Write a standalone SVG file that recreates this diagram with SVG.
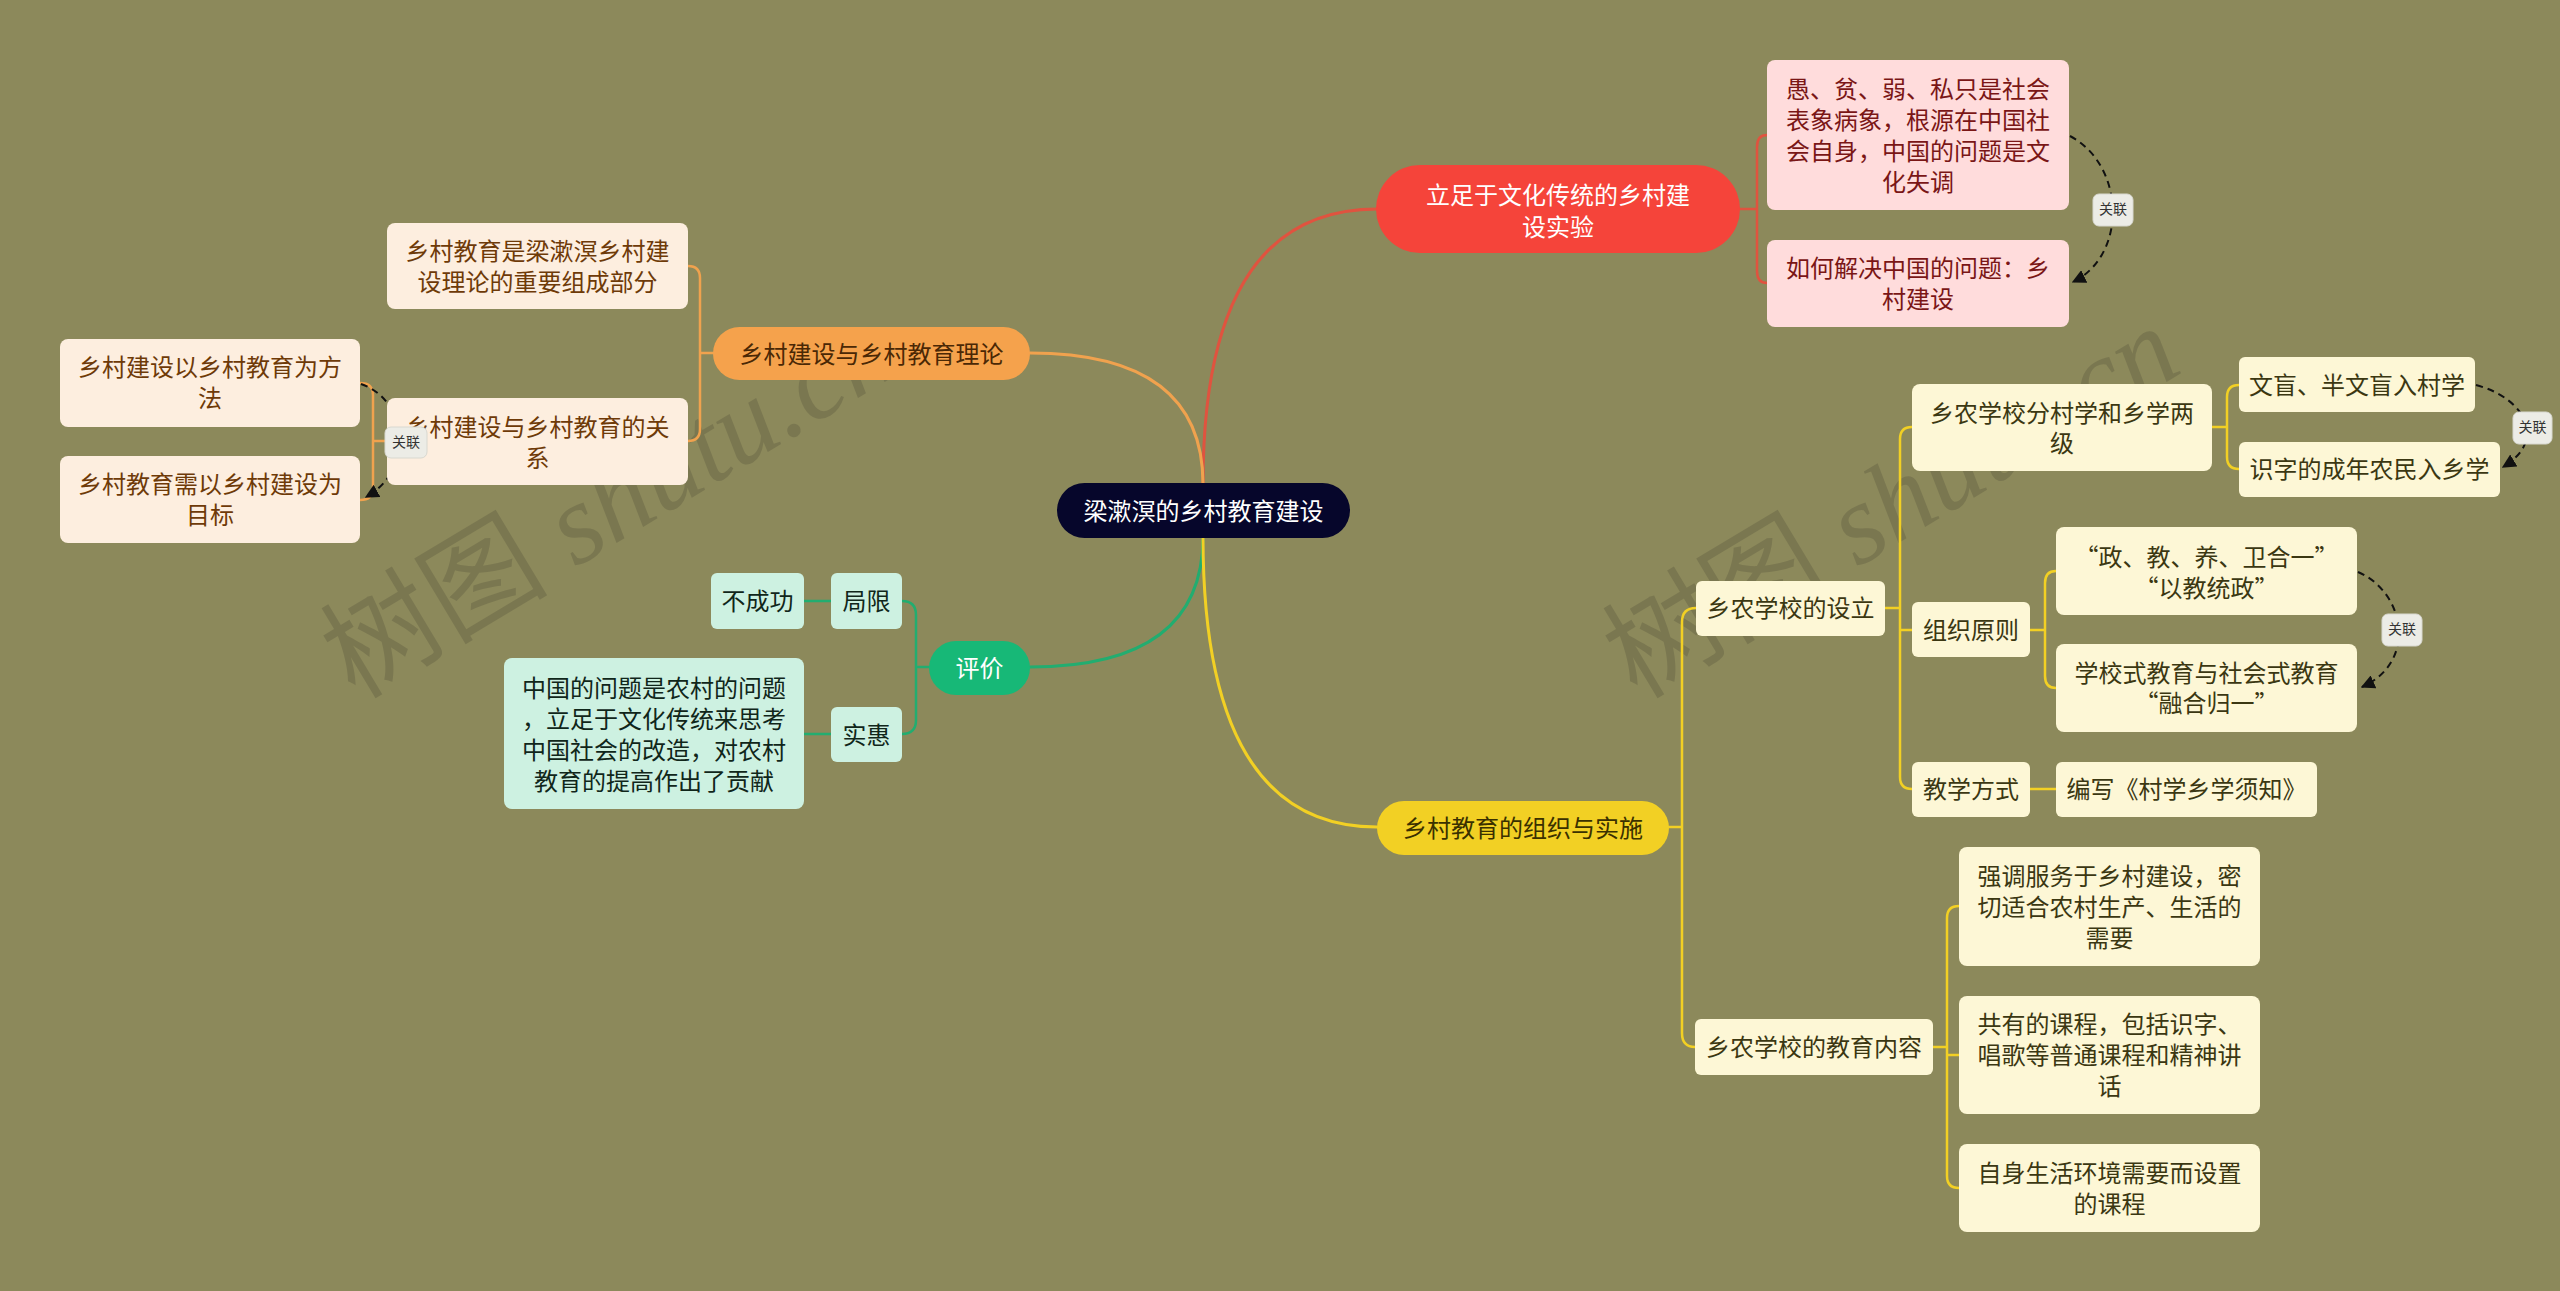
<svg xmlns="http://www.w3.org/2000/svg" width="2560" height="1291" viewBox="0 0 2560 1291">
<defs>
<style>
text{font-family:"Noto Sans CJK SC","Noto Sans",sans-serif;font-size:24px;text-anchor:middle;dominant-baseline:central}
g[id^="n-"] text,.lbl text{transform:translateY(-2px)}
.c{fill:none;stroke-width:3;stroke-linecap:round}
.b{fill:none;stroke-width:2.5;stroke-linecap:round;stroke-linejoin:round}
.rel{fill:none;stroke:#111;stroke-width:2;stroke-dasharray:7 5;marker-end:url(#arr)}
.lbl rect{fill:#ecece6;stroke:#d8d8d0;stroke-width:1}
.lbl text{font-size:14px;fill:#333}
.pink rect{fill:#ffdcdc}
.pink text{fill:#7a1616}
.peach rect{fill:#fdeedf}
.peach text{fill:#6e3a08}
.mint rect{fill:#cdf1e1}
.mint text{fill:#10261a}
.cream rect{fill:#fdf7d6}
.cream text{fill:#3b3712}
.wm{font-size:114px;fill:#5e5b40;opacity:0.38;text-anchor:start;dominant-baseline:alphabetic}
</style>
<marker id="arr" viewBox="0 0 10 10" refX="9" refY="5" markerWidth="7" markerHeight="7" orient="auto">
<path d="M0,0 L10,5 L0,10 z" fill="#111"/>
</marker>
</defs>
<rect x="0" y="0" width="2560" height="1291" fill="#8c895b"/>

<g id="watermarks">
<text class="wm" transform="translate(355,700) rotate(-31)"><tspan font-family="Noto Sans CJK SC">树图</tspan><tspan font-family="Liberation Serif" font-style="italic"> shutu.cn</tspan></text>
<text class="wm" transform="translate(1637,700) rotate(-31)"><tspan font-family="Noto Sans CJK SC">树图</tspan><tspan font-family="Liberation Serif" font-style="italic"> shutu.cn</tspan></text>
</g>

<g id="connectors">
<path class="c" stroke="#e0533f" d="M1203,484 Q1203,209 1377,209"/>
<path class="c" stroke="#f0a24e" d="M1203,484 Q1203,353 1030,353"/>
<path class="c" stroke="#22ad70" d="M1203,537 Q1203,667 1030,667"/>
<path class="c" stroke="#f2d024" d="M1203,537 Q1203,827 1377,827"/>
<path class="b" stroke="#e0533f" d="M1740,209 H1757 M1767,135 Q1757,135 1757,147 V271 Q1757,283 1767,283"/>
<path class="b" stroke="#f0a24e" d="M713,353 H700 M688,266 Q700,266 700,278 V429 Q700,441 688,441"/>
<path class="b" stroke="#f0a24e" d="M387,441 H373 M360,383 Q373,383 373,395 V488 Q373,500 360,500"/>
<path class="b" stroke="#22ad70" d="M929,667 H916 M902,601 Q916,601 916,615 V720 Q916,734 902,734 M831,601 H804 M831,734 H804"/>
<path class="b" stroke="#f2d024" d="M1669,827 H1682 M1696,608 Q1682,608 1682,622 V1033 Q1682,1047 1695,1047"/>
<path class="b" stroke="#f2d024" d="M1885,608 H1900 M1912,427 Q1900,427 1900,439 V777 Q1900,789 1912,789 M1900,630 H1912"/>
<path class="b" stroke="#f2d024" d="M2212,427 H2227 M2239,385 Q2227,385 2227,397 V457 Q2227,469 2239,469"/>
<path class="b" stroke="#f2d024" d="M2030,630 H2045 M2056,571 Q2045,571 2045,583 V676 Q2045,688 2056,688"/>
<path class="b" stroke="#f2d024" d="M2030,789 H2056"/>
<path class="b" stroke="#f2d024" d="M1933,1047 H1947 M1959,906 Q1947,906 1947,918 V1176 Q1947,1188 1959,1188 M1947,1055 H1959"/>
<path class="rel" d="M2070,136 C2125,165 2128,255 2073,282"/>
<path class="rel" d="M361,384 C408,400 415,470 366,497"/>
<path class="rel" d="M2476,385 C2525,398 2548,440 2503,467"/>
<path class="rel" d="M2358,572 C2405,592 2418,662 2362,687"/>
</g>

<g id="n-root"><rect x="1057" y="483" width="293" height="55" rx="27.5" fill="#06062b"/><text x="1203.5" y="511" fill="#fff">梁漱溟的乡村教育建设</text></g>

<g id="n-red"><rect x="1376" y="165" width="364" height="88" rx="44" fill="#f5443a"/><text x="1558" y="195" fill="#fff">立足于文化传统的乡村建</text><text x="1558" y="227" fill="#fff">设实验</text></g>
<g id="n-red-1" class="pink"><rect x="1767" y="60" width="302" height="150" rx="8"/><text x="1918" y="89">愚、贫、弱、私只是社会</text><text x="1918" y="120">表象病象，根源在中国社</text><text x="1918" y="151">会自身，中国的问题是文</text><text x="1918" y="182">化失调</text></g>
<g id="n-red-2" class="pink"><rect x="1767" y="240" width="302" height="87" rx="8"/><text x="1918" y="268">如何解决中国的问题：乡</text><text x="1918" y="299">村建设</text></g>

<g id="n-orange"><rect x="713" y="327" width="317" height="53" rx="26.5" fill="#f5a24c"/><text x="871.5" y="354" fill="#4a2805">乡村建设与乡村教育理论</text></g>
<g id="n-or-1" class="peach"><rect x="387" y="223" width="301" height="86" rx="8"/><text x="537.5" y="251">乡村教育是梁漱溟乡村建</text><text x="537.5" y="282">设理论的重要组成部分</text></g>
<g id="n-or-2" class="peach"><rect x="387" y="398" width="301" height="87" rx="8"/><text x="537.5" y="427">乡村建设与乡村教育的关</text><text x="537.5" y="458">系</text></g>
<g id="n-or-2a" class="peach"><rect x="60" y="339" width="300" height="88" rx="8"/><text x="210" y="367">乡村建设以乡村教育为方</text><text x="210" y="398">法</text></g>
<g id="n-or-2b" class="peach"><rect x="60" y="456" width="300" height="87" rx="8"/><text x="210" y="484">乡村教育需以乡村建设为</text><text x="210" y="515">目标</text></g>

<g id="n-green"><rect x="929" y="641" width="101" height="54" rx="27" fill="#17b877"/><text x="979.5" y="668" fill="#fff">评价</text></g>
<g id="n-gr-1" class="mint"><rect x="831" y="573" width="71" height="56" rx="6"/><text x="866.5" y="601">局限</text></g>
<g id="n-gr-1a" class="mint"><rect x="711" y="573" width="93" height="56" rx="6"/><text x="757.5" y="601">不成功</text></g>
<g id="n-gr-2" class="mint"><rect x="831" y="707" width="71" height="55" rx="6"/><text x="866.5" y="735">实惠</text></g>
<g id="n-gr-2a" class="mint"><rect x="504" y="658" width="300" height="151" rx="8"/><text x="654" y="688">中国的问题是农村的问题</text><text x="654" y="719">，立足于文化传统来思考</text><text x="654" y="750">中国社会的改造，对农村</text><text x="654" y="781">教育的提高作出了贡献</text></g>

<g id="n-yellow"><rect x="1377" y="801" width="292" height="54" rx="27" fill="#f2d024"/><text x="1523" y="828" fill="#3a3000">乡村教育的组织与实施</text></g>
<g id="n-ye-1" class="cream"><rect x="1696" y="581" width="189" height="55" rx="6"/><text x="1790.5" y="608">乡农学校的设立</text></g>
<g id="n-ye-1a" class="cream"><rect x="1912" y="384" width="300" height="87" rx="8"/><text x="2062" y="413">乡农学校分村学和乡学两</text><text x="2062" y="443">级</text></g>
<g id="n-ye-1a1" class="cream"><rect x="2239" y="357" width="236" height="55" rx="6"/><text x="2357" y="385">文盲、半文盲入村学</text></g>
<g id="n-ye-1a2" class="cream"><rect x="2239" y="442" width="261" height="55" rx="6"/><text x="2369.5" y="469">识字的成年农民入乡学</text></g>
<g id="n-ye-1b" class="cream"><rect x="1912" y="602" width="118" height="55" rx="6"/><text x="1971" y="630">组织原则</text></g>
<g id="n-ye-1b1" class="cream"><rect x="2056" y="527" width="301" height="88" rx="8"/><text x="2206.5" y="557">“政、教、养、卫合一”</text><text x="2206.5" y="588">“以教统政”</text></g>
<g id="n-ye-1b2" class="cream"><rect x="2056" y="644" width="301" height="88" rx="8"/><text x="2206.5" y="673">学校式教育与社会式教育</text><text x="2206.5" y="703">“融合归一”</text></g>
<g id="n-ye-1c" class="cream"><rect x="1912" y="762" width="118" height="55" rx="6"/><text x="1971" y="789">教学方式</text></g>
<g id="n-ye-1c1" class="cream"><rect x="2056" y="762" width="261" height="55" rx="6"/><text x="2186.5" y="789">编写《村学乡学须知》</text></g>
<g id="n-ye-2" class="cream"><rect x="1695" y="1019" width="238" height="56" rx="6"/><text x="1814" y="1047">乡农学校的教育内容</text></g>
<g id="n-ye-2a" class="cream"><rect x="1959" y="847" width="301" height="119" rx="8"/><text x="2109.5" y="876">强调服务于乡村建设，密</text><text x="2109.5" y="907">切适合农村生产、生活的</text><text x="2109.5" y="938">需要</text></g>
<g id="n-ye-2b" class="cream"><rect x="1959" y="996" width="301" height="118" rx="8"/><text x="2109.5" y="1024">共有的课程，包括识字、</text><text x="2109.5" y="1055">唱歌等普通课程和精神讲</text><text x="2109.5" y="1086">话</text></g>
<g id="n-ye-2c" class="cream"><rect x="1959" y="1144" width="301" height="88" rx="8"/><text x="2109.5" y="1173">自身生活环境需要而设置</text><text x="2109.5" y="1204">的课程</text></g>

<g id="rel-labels">
<g class="lbl"><rect x="2093" y="194" width="40" height="32" rx="6"/><text x="2113" y="210">关联</text></g>
<g class="lbl"><rect x="385" y="427" width="42" height="31" rx="6"/><text x="406" y="443">关联</text></g>
<g class="lbl"><rect x="2513" y="412" width="39" height="32" rx="6"/><text x="2532.5" y="428">关联</text></g>
<g class="lbl"><rect x="2382" y="614" width="40" height="32" rx="6"/><text x="2402" y="630">关联</text></g>
</g>
</svg>
